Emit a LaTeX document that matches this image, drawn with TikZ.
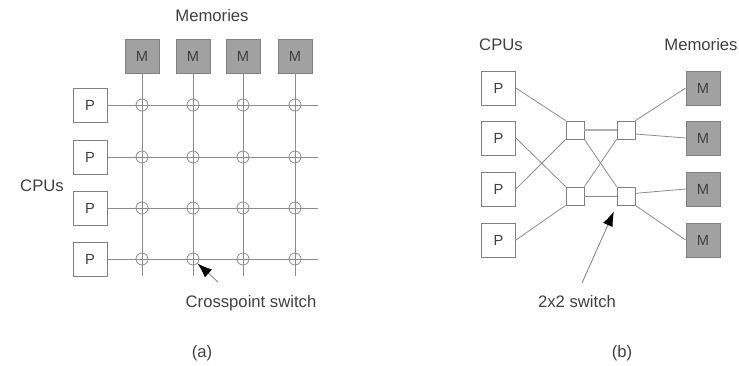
\documentclass[tikz,border=0pt]{standalone}
\usepackage{fontspec}
\setmainfont{Liberation Sans}
\usepackage{tikz}
\usetikzlibrary{shapes,arrows.meta}
\definecolor{linegray}{rgb}{0.55, 0.55, 0.55}
\definecolor{boxgray}{rgb}{0.5, 0.5, 0.5}
\definecolor{memgray}{rgb}{0.63, 0.63, 0.63}
\definecolor{textgray}{rgb}{0.25, 0.25, 0.25}
\tikzstyle{wire}=[draw=linegray, line width=0.6pt]
\tikzstyle{cpu}=[rectangle, draw=boxgray, line width=0.6pt, fill=white, minimum size=25.5pt, inner sep=0pt, text=textgray, font=\fontsize{11pt}{13pt}\selectfont]
\tikzstyle{mem}=[cpu, fill=memgray]
\tikzstyle{xpt}=[circle, draw=linegray, line width=0.6pt, minimum size=9pt, inner sep=0pt]
\tikzstyle{sw}=[rectangle, draw=boxgray, line width=0.6pt, fill=white, minimum size=13.5pt, inner sep=0pt]
\tikzstyle{lbl}=[text=textgray, font=\fontsize{12.5pt}{14pt}\selectfont]
\tikzstyle{pointer}=[draw=linegray, line width=0.7pt, -{Latex[length=11pt, width=8pt, color=black]}]
\begin{document}
\begin{tikzpicture}[x=0.75pt, y=-0.75pt]
\useasboundingbox (0,0) rectangle (739,365);
\foreach \i/\x in {1/142, 2/193, 3/243, 4/295}{
	\node[mem] (m\i) at (\x,56) {M};
	\coordinate (be\i) at (\x,276);
	\draw[wire] (m\i.south) -- (be\i);
}
\foreach \j/\y in {1/105, 2/157, 3/208, 4/259}{
	\node[cpu] (p\j) at (90,\y) {P};
	\coordinate (re\j) at (318,\y);
	\draw[wire] (p\j.east) -- (re\j);
}
\foreach \i in {1,...,4}{
	\foreach \j in {1,...,4}{
		\node[xpt] (x\i\j) at (m\i |- p\j) {};
	}
}
\node[lbl] (memA) at (212,16) {Memories};
\node[lbl] (cpuA) at (42,186) {CPUs};
\node[lbl] (xlbl) at (251,303) {Crosspoint switch};
\coordinate (xtail) at (218,282);
\draw[pointer] (xtail) -- (x24.south east);
\node[lbl] (capA) at (202,353) {(a)};
\foreach \j/\y in {1/88, 2/138, 3/189, 4/240}{
	\node[cpu] (q\j) at (498.5,\y) {P};
	\node[mem] (n\j) at (703,\y) {M};
}
\node[sw] (s1) at (575,130) {};
\node[sw] (s2) at (626,130) {};
\node[sw] (s3) at (575,196) {};
\node[sw] (s4) at (626,196) {};
\draw[wire] (q1.east) -- (s1.north west);
\draw[wire] (q2.east) -- (s3.north west);
\draw[wire] (q3.east) -- (s1.south west);
\draw[wire] (q4.east) -- (s3.south west);
\draw[wire, line width=1.4pt, draw=linegray!70] (s1.east) -- (s2.west);
\draw[wire] (s3.east) -- (s4.west);
\draw[wire] (s1.south east) -- (s4.north west);
\draw[wire] (s3.north east) -- (s2.south west);
\draw[wire] (s2.north east) -- (n1.west);
\draw[wire] ([yshift=-3pt]s2.east) -- (n2.west);
\draw[wire] ([yshift=2pt]s4.east) -- (n3.west);
\draw[wire] (s4.south east) -- (n4.west);
\node[lbl] (cpuB) at (501,45) {CPUs};
\node[lbl] (memB) at (701,45) {Memories};
\node[lbl] (swlbl) at (577,302) {2x2 switch};
\coordinate (swtail) at (582,283);
\draw[pointer, shorten >=5pt] (swtail) -- (s4.south west);
\node[lbl] (capB) at (622,353) {(b)};
\end{tikzpicture}
\end{document}
